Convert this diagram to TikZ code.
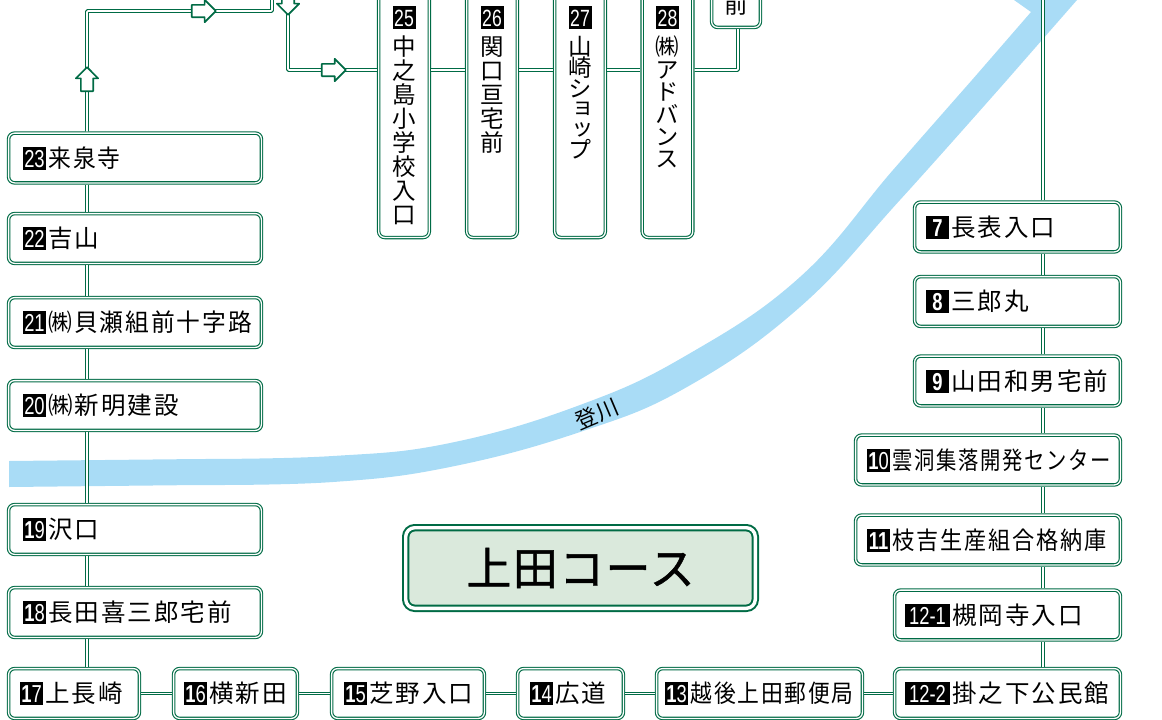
\documentclass[tikz,border=0pt]{standalone}
\usepackage{fontspec}
\usepackage{graphicx}
\usepackage{xcolor}
\usetikzlibrary{shapes.arrows}

\newfontfamily\jpfont[LetterSpace=8]{Noto Sans CJK JP}
\newfontfamily\jpvert[RawFeature=+vert]{Noto Sans CJK JP}
\newfontfamily\jplabel{Noto Sans CJK JP}
\newfontfamily\jptitle[LetterSpace=3,FakeBold=1]{Noto Sans CJK JP}
\newfontfamily\numfont[FakeStretch=0.75]{Liberation Sans}
\setlength{\fboxsep}{0pt}

\definecolor{routegreen}{HTML}{006B45}
\definecolor{rivercolor}{HTML}{A9DCF6}
\definecolor{titlefill}{HTML}{DAE9DC}

\newcommand{\stopnum}[2][23pt]{\colorbox{black}{\makebox[#1]{\rule[-2.5pt]{0pt}{23pt}\color{white}\numfont #2}}\nobreak\hspace{2.5pt}}
\newcommand{\colstack}[3][24pt]{\parbox[c][256pt][t]{44pt}{\jpvert\fontsize{23.5}{#1}\selectfont
  \lineskiplimit=-100pt\centering\vspace*{24.4pt}\stopnum{#2}\\[\dimexpr29.5pt-#1\relax]#3\par}}

\tikzset{
  stopshape/.style={draw=routegreen, double=white, double distance=1.3pt, line width=1.1pt,
    rounded corners=6pt, fill=white, outer sep=1.8pt},
  stopbox/.style={stopshape, minimum height=49.8pt, inner ysep=0pt, align=left,
    font={\jpfont\fontsize{24.5}{26}\selectfont}},
  stopcol/.style={stopshape, minimum width=50.6pt, inner sep=0pt,
    font={\jpvert\fontsize{23.5}{24}\selectfont}},
  route/.style={draw=routegreen, double=white, double distance=1.7pt, line width=1.1pt, rounded corners=1pt},
  routearrow/.style={single arrow, anchor=tip, draw=routegreen, fill=white, line width=1.7pt, line join=round,
    minimum height=24pt, single arrow head extend=5pt, inner sep=5.3pt},
  riverlabel/.style={font={\jplabel\fontsize{22}{24}\selectfont}, inner sep=0pt},
  titlebox/.style={draw=routegreen, double=white, double distance=3.4pt, line width=2pt, fill=titlefill,
    rounded corners=9pt, minimum width=349.6pt, minimum height=80.6pt,
    font={\jptitle\fontsize{45}{48}\selectfont}}
}

\begin{document}
\begin{tikzpicture}

  \useasboundingbox (0,0) rectangle (1162pt,-720pt);
  \clip (0,0) rectangle (1162pt,-720pt);

  % river
  \fill[rivercolor] (9pt,-461pt)
    -- plot[smooth,tension=.7] coordinates {(200pt,-459pt) (333pt,-456pt) (450pt,-443pt) (580pt,-405pt) (687pt,-355pt) (800pt,-277pt) (893pt,-170pt) (972pt,-80pt)}
    -- (1031pt,-12pt) -- (1014pt,0pt) -- (1077pt,0pt) -- (1007pt,-80pt)
    -- plot[smooth,tension=.7] coordinates {(1007pt,-80pt) (900pt,-200pt) (800pt,-307pt) (687pt,-387pt) (580pt,-432pt) (450pt,-467pt) (333pt,-482pt) (200pt,-485pt)}
    -- (9pt,-487pt) -- cycle;
  \node[riverlabel, rotate=23] (toukawa) at (597pt,-414pt) {登川};

  \coordinate (leftrail)  at (87pt,-11pt);
  \coordinate (rightrail) at (1043pt,-5pt);
  \coordinate (colrow)    at (288pt,-70pt);
  \coordinate (turnup)    at (272pt,-11pt);
  \coordinate (leavetop)  at (272pt,5pt);
  \coordinate (enterdown) at (288pt,5pt);
  \coordinate (drop)      at (738pt,-70pt);
  \coordinate (righttop)  at (1043pt,5pt);

  % left column
  \node[stopbox, inner xsep=14.4pt, text width=224pt] (s23) at (135pt,-158pt) {\stopnum{23}\scalebox{.93}[1]{来泉寺}};
  \node[stopbox, inner xsep=14.4pt, text width=224pt] (s22) at (135pt,-238.5pt) {\stopnum{22}吉山};
  \node[stopbox, inner xsep=14.4pt, text width=224pt] (s21) at (135pt,-322.5pt) {\stopnum{21}\scalebox{.97}[1]{㈱貝瀬組前十字路}};
  \node[stopbox, inner xsep=14.4pt, text width=224pt] (s20) at (135pt,-405.5pt) {\stopnum{20}㈱新明建設};
  \node[stopbox, inner xsep=14.4pt, text width=224pt] (s19) at (135pt,-529.5pt) {\stopnum{{\bfseries 1}9}沢口};
  \node[stopbox, inner xsep=14.4pt, text width=224pt] (s18) at (135pt,-612.5pt) {\stopnum{{\bfseries 1}8}長田喜三郎宅前};

  % bottom row
  \node[stopbox, inner xsep=11.4pt, text width=108pt] (s17) at (74pt,-693.5pt) {\stopnum{{\bfseries 1}7}上長崎};
  \node[stopbox, inner xsep=10.4pt, text width=103pt] (s16) at (235.5pt,-693.5pt) {\stopnum{{\bfseries 1}6}横新田};
  \node[stopbox, inner xsep=12.4pt, text width=128pt] (s15) at (408pt,-693.5pt) {\stopnum{{\bfseries 1}5}芝野入口};
  \node[stopbox, inner xsep=12.4pt, text width=81pt] (s14) at (570.5pt,-693.5pt) {\stopnum{{\bfseries 1}4}広道};
  \node[stopbox, inner xsep=8.4pt, text width=189pt] (s13) at (759.5pt,-693.5pt) {\stopnum{{\bfseries 1}3}\scalebox{.89}[1]{越後上田郵便局}};
  \node[stopbox, inner xsep=10.4pt, text width=205pt] (s122) at (1007.5pt,-693.5pt) {\stopnum[45pt]{12-2}掛之下公民館};

  % right column
  \node[stopbox, inner xsep=10.4pt, text width=205pt] (s121) at (1007.5pt,-615pt) {\stopnum[45pt]{12-1}槻岡寺入口};
  \node[stopbox, inner xsep=11.4pt, text width=242pt] (s11) at (988pt,-540pt) {\stopnum{\bfseries 11}\scalebox{.905}[1]{枝吉生産組合格納庫}};
  \node[stopbox, inner xsep=11.4pt, text width=242pt] (s10) at (988pt,-460pt) {\stopnum{{\bfseries 1}0}\scalebox{.83}[1]{雲洞集落開発センター}};
  \node[stopbox, inner xsep=11.4pt, text width=183pt] (s9) at (1017.5pt,-381pt) {\stopnum{\bfseries 9}山田和男宅前};
  \node[stopbox, inner xsep=11.4pt, text width=183pt] (s8) at (1017.5pt,-301.5pt) {\stopnum{\bfseries 8}三郎丸};
  \node[stopbox, inner xsep=11.4pt, text width=183pt] (s7) at (1017.5pt,-227pt) {\stopnum{\bfseries 7}長表入口};

  % upright stops
  \node[stopcol, minimum height=256pt] (s25) at (404pt,-109.5pt) {\colstack{25}{中\\之\\島\\小\\学\\校\\入\\口}};
  \node[stopcol, minimum height=256pt] (s26) at (492pt,-109.5pt) {\colstack{26}{関\\口\\亘\\宅\\前}};
  \node[stopcol, minimum height=256pt] (s27) at (580pt,-109.5pt) {\colstack[20.6pt]{27}{山\\崎\\シ\\ョ\\ッ\\プ}};
  \node[stopcol, minimum height=256pt] (s28) at (667.5pt,-109.5pt) {\colstack[22.4pt]{28}{㈱\\ア\\ド\\バ\\ン\\ス}};
  \node[stopcol, minimum height=45.8pt, minimum width=48.8pt] (s29) at (736pt,-4.5pt) {\raisebox{-4pt}{前}};

  \node[titlebox] (coursetitle) at (580.5pt,-568pt) {上田コース};

  % connectors
  \draw[route] (leftrail |- s23.north) -- (leftrail) -- (turnup) -- (leavetop);
  \draw[route] (leftrail |- s23.south) -- (leftrail |- s22.north);
  \draw[route] (leftrail |- s22.south) -- (leftrail |- s21.north);
  \draw[route] (leftrail |- s21.south) -- (leftrail |- s20.north);
  \draw[route] (leftrail |- s20.south) -- (leftrail |- s19.north);
  \draw[route] (leftrail |- s19.south) -- (leftrail |- s18.north);
  \draw[route] (leftrail |- s18.south) -- (leftrail |- s17.north);

  \draw[route] (s17.east) -- (s16.west);
  \draw[route] (s16.east) -- (s15.west);
  \draw[route] (s15.east) -- (s14.west);
  \draw[route] (s14.east) -- (s13.west);
  \draw[route] (s13.east) -- (s122.west);

  \draw[route] (rightrail |- s122.north) -- (rightrail |- s121.south);
  \draw[route] (rightrail |- s121.north) -- (rightrail |- s11.south);
  \draw[route] (rightrail |- s11.north) -- (rightrail |- s10.south);
  \draw[route] (rightrail |- s10.north) -- (rightrail |- s9.south);
  \draw[route] (rightrail |- s9.north) -- (rightrail |- s8.south);
  \draw[route] (rightrail |- s8.north) -- (rightrail |- s7.south);
  \draw[route] (rightrail |- s7.north) -- (righttop);

  \draw[route] (enterdown) -- (colrow) -- (s25.west |- colrow);
  \draw[route] (s25.east |- colrow) -- (s26.west |- colrow);
  \draw[route] (s26.east |- colrow) -- (s27.west |- colrow);
  \draw[route] (s27.east |- colrow) -- (s28.west |- colrow);
  \draw[route] (s28.east |- colrow) -- (drop) -- (drop |- s29.south);

  % arrows
  \node[routearrow, rotate=90] (arrowup) at (87pt,-66pt) {};
  \node[routearrow] (arrowtop) at (217pt,-11pt) {};
  \node[routearrow, rotate=-90] (arrowdown) at (288pt,-16pt) {};
  \node[routearrow] (arrowcol) at (347pt,-70pt) {};

\end{tikzpicture}
\end{document}
